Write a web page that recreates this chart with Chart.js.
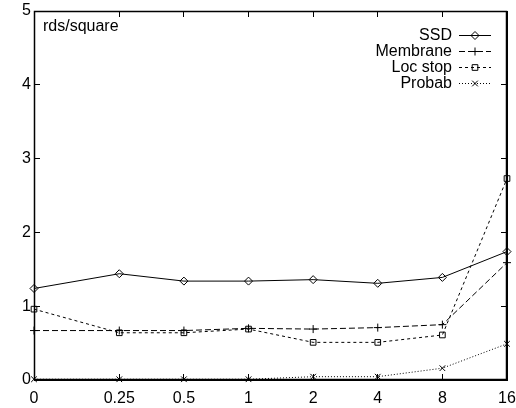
<!DOCTYPE html>
<html><head><meta charset="utf-8">
<script src="https://cdn.jsdelivr.net/npm/chart.js@4"></script>
<style>html,body{margin:0;padding:0;background:#fff}#wrap{width:516px;height:408px}</style>
</head><body><div id="wrap"><canvas id="c" width="516" height="408"></canvas></div>
<script>
const categories = ['0','0.25','0.5','1','2','4','8','16'];
const xPositions = [-3.32, -2, -1, 0, 1, 2, 3, 4];
const ssd      = [1.24, 1.44, 1.34, 1.34, 1.36, 1.31, 1.39, 1.74];
const membrane = [0.67, 0.67, 0.67, 0.70, 0.69, 0.71, 0.75, 1.59];
const locStop  = [0.96, 0.64, 0.64, 0.69, 0.51, 0.51, 0.61, 2.73];
const probab   = [0.01, 0.01, 0.01, 0.01, 0.045, 0.045, 0.16, 0.49];
const yTicks = [0,1,2,3,4,5];
const yLabel = 'rds/square';

const FAMILY = '"Liberation Sans", Arial, Helvetica, sans-serif';
const FONT = '16px ' + FAMILY;
const pts = arr => arr.map((v,i)=>({x:xPositions[i], y:v}));
const mk = (label, data, pointStyle, dash, radius) => ({
  label, data: pts(data), borderColor:'#000', backgroundColor:'rgba(0,0,0,0)',
  borderWidth:1, borderDash:dash, pointStyle, pointRadius:radius, pointBorderWidth:1,
  pointBorderColor:'#000', pointBackgroundColor:'rgba(0,0,0,0)', tension:0, clip:false, fill:false
});
const datasets = [
  mk('SSD', ssd, 'rectRot', [], 4),
  mk('Membrane', membrane, 'cross', [6,3], 4),
  mk('Loc stop', locStop, 'rect', [3,3], 4),
  mk('Probab', probab, 'crossRot', [1,2], 4)
];

const textPlugin = {
  id:'gnuKey',
  afterDraw(chart){
    const ctx = chart.ctx, a = chart.chartArea;
    ctx.save();
    ctx.strokeStyle = '#000'; ctx.lineWidth = 1.5; ctx.setLineDash([]);
    ctx.strokeRect(a.left+0.5, a.top+0.5, a.right-a.left-1, a.bottom-a.top-1);
    ctx.lineWidth = 1;
    ctx.font = FONT; ctx.fillStyle = '#000';
    ctx.textBaseline = 'middle'; ctx.textAlign = 'left';
    ctx.fillText(yLabel, a.left+9, 27);
    const rowY0 = 35, rowH = 16, textRight = 452, l0 = 459, l1 = 491;
    ctx.strokeStyle = '#000';
    chart.data.datasets.forEach((ds,i)=>{
      const ry = Math.round(rowY0 + i*rowH) + 0.5;
      ctx.textAlign = 'right'; ctx.fillStyle = '#000';
      ctx.fillText(ds.label, textRight, ry);
      ctx.beginPath();
      ctx.setLineDash(ds.borderDash);
      ctx.moveTo(l0, ry); ctx.lineTo(l1, ry);
      ctx.stroke();
      ctx.setLineDash([]);
      ctx.fillStyle = 'rgba(0,0,0,0)';
      Chart.helpers.drawPoint(ctx, {pointStyle: ds.pointStyle, rotation:0, radius: ds.pointRadius, borderWidth:1}, (l0+l1)/2, ry);
    });
    ctx.restore();
  }
};

const noPad = s => { s.paddingTop = 0; s.paddingBottom = 0; s.paddingLeft = 0; s.paddingRight = 0; };
const gridIn = {display:true, drawOnChartArea:false, drawTicks:true, tickLength:-6, color:'#000', lineWidth:1};
const borderOn = {display:true, color:'#000', width:1};
const tickFont = {family:FAMILY, size:16};
const xTicksBuild = s => { s.ticks = xPositions.map(v=>({value:v})); };
const yTicksBuild = s => { s.ticks = yTicks.map(v=>({value:v})); };

new Chart(document.getElementById('c'), {
  type:'line',
  data:{datasets},
  options:{
    responsive:false, animation:false,
    layout:{autoPadding:false, padding:{left:0, right:9, top:11, bottom:0}},
    plugins:{legend:{display:false}, tooltip:{enabled:false}},
    scales:{
      x:{type:'linear', position:'bottom', min:xPositions[0], max:xPositions[xPositions.length-1],
        grid:gridIn, border:borderOn,
        afterBuildTicks:xTicksBuild,
        afterFit(s){ s.height = 28; noPad(s); },
        ticks:{autoSkip:false, maxRotation:0, padding:15, color:'#000', font:tickFont,
          callback(v){ const i = xPositions.indexOf(v); return i>=0 ? categories[i] : ''; }}
      },
      x2:{type:'linear', position:'top', min:xPositions[0], max:xPositions[xPositions.length-1],
        grid:gridIn, border:borderOn,
        afterBuildTicks:xTicksBuild,
        afterFit(s){ s.height = 0; noPad(s); },
        ticks:{display:false}
      },
      y:{type:'linear', position:'left', min:0, max:5,
        grid:gridIn, border:borderOn,
        afterBuildTicks:yTicksBuild,
        afterFit(s){ s.width = 34; noPad(s); },
        ticks:{padding:9, color:'#000', font:tickFont}
      },
      y2:{type:'linear', position:'right', min:0, max:5,
        grid:gridIn, border:borderOn,
        afterBuildTicks:yTicksBuild,
        afterFit(s){ s.width = 0; noPad(s); },
        ticks:{display:false}
      }
    }
  },
  plugins:[textPlugin]
});
</script>
</body></html>
